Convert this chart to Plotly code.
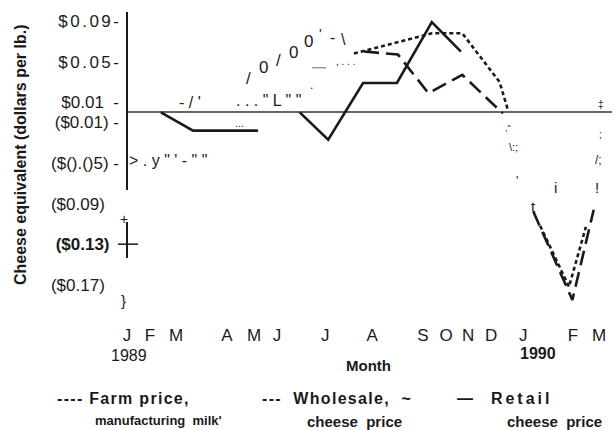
import plotly.graph_objects as go

# ---- data -------------------------------------------------------------
# x is measured in months from January 1989 (0) to March 1990 (14)
MONTH_LABELS = ["J", "F", "M", "A", "M", "J", "J", "A", "S", "O", "N", "D", "J", "F", "M"]
MONTH_TICKS = [0, 0.68, 1.45, 2.95, 3.75, 4.43, 5.85, 7.24, 8.74, 9.42, 10.07, 10.75, 11.7, 13.17, 13.94]

Y_TICKS = [0.09, 0.05, 0.01, -0.01, -0.05, -0.09, -0.13, -0.17]
WIDE = '<span style="letter-spacing:2.5px">{}</span>'
Y_TICK_TEXT = [WIDE.format("$0.09") + "-", WIDE.format("$0.05") + "-", "$0.01\u00a0\u00a0-",
               "($0.01) -", "($().()5) -", "($0.09)\u00a0\u00a0\u00a0", "<b>($0.13)</b>\u00a0\u00a0",
               "($0.17)\u00a0\u00a0\u00a0"]

# Farm price, manufacturing milk (dotted)
farm_x = [6.7, 9.0, 9.9, 11.0, 11.25, None, 12.2, 13.05, 13.55]
farm_y = [0.058, 0.078, 0.078, 0.030, 0.002, None, -0.112, -0.172, -0.113]

# Wholesale cheese price (long dash)
whole_x = [7.0, 8.0, 8.9, 9.9, 11.0, 11.1, None, 12.0, 13.15, 13.78]
whole_y = [0.060, 0.057, 0.019, 0.037, 0.002, -0.001, None, -0.098, -0.185, -0.096]

# Retail cheese price (solid)
retail_x = [1.0, 1.95, 3.87, None, 5.1, 5.94, 6.97, 7.97, 9.0, 9.86]
retail_y = [0.0, -0.018, -0.018, None, 0.0, -0.027, 0.029, 0.029, 0.089, 0.060]

# ---- layout geometry ---------------------------------------------------
W, H = 616, 430
L, R, T, B = 127, 612, 12, 305          # plot area edges in page pixels
X_RANGE = [0, 14.32]
Y_RANGE = [-0.19, 0.099]

FONT = "Liberation Sans, Arial, Helvetica, sans-serif"
NARROW = "Liberation Sans Narrow, Arial Narrow, Liberation Sans, sans-serif"
INK = "#1a1a1a"


def at(px, py):
    """Page pixel -> paper coordinates."""
    return (px - L) / (R - L), (B - py) / (B - T)


def spaced(s, px=1.5):
    return f'<span style="letter-spacing:{px}px">{s}</span>'


fig = go.Figure()

fig.add_trace(go.Scatter(x=farm_x, y=farm_y, mode="lines", connectgaps=False,
                         line=dict(color=INK, width=2.6, dash="4px,3px"),
                         name="Farm price"))
fig.add_trace(go.Scatter(x=whole_x, y=whole_y, mode="lines", connectgaps=False,
                         line=dict(color=INK, width=2.6, dash="15px,7px"),
                         name="Wholesale"))
fig.add_trace(go.Scatter(x=retail_x, y=retail_y, mode="lines", connectgaps=False,
                         line=dict(color=INK, width=2.6),
                         name="Retail"))

shapes = []
# broken vertical axis: upper run and the short piece near ($0.13)
for y0, y1 in [(12, 190), (222, 258)]:
    p0 = at(L, y0)[1]
    p1 = at(L, y1)[1]
    shapes.append(dict(type="line", xref="paper", yref="paper", x0=0, x1=0, y0=p0, y1=p1,
                       line=dict(color=INK, width=2)))
# cross tick at ($0.13)
shapes.append(dict(type="line", xref="paper", yref="y", x0=at(118, 0)[0], x1=at(138, 0)[0],
                   y0=-0.13, y1=-0.13, line=dict(color=INK, width=1.5)))

annotations = []


def txt(s, px, py, size=15, bold=False, family=FONT, xanchor="center", angle=0):
    x, y = at(px, py)
    annotations.append(dict(text=f"<b>{s}</b>" if bold else s, x=x, y=y, xref="paper", yref="paper",
                            showarrow=False, xanchor=xanchor, yanchor="middle", textangle=angle,
                            font=dict(family=family, size=size, color=INK)))


# axis title and captions
txt("Cheese equivalent (dollars per lb.)", 20, 155, size=16, bold=True, angle=-90)
txt("1989", 129, 355, size=16)
txt("<b>1990</b>", 538, 353, size=16)
txt("<b>Month</b>", 368, 365, size=15)

# key
txt(spaced("---- Farm price,", 1.3), 55, 398, size=16, bold=True, xanchor="left")
txt("manufacturing  milk'", 93, 420, size=13, bold=True, family=NARROW, xanchor="left")
txt(spaced("---  Wholesale,  ~", 1.3), 260, 398, size=16, bold=True, xanchor="left")
txt("cheese  price", 305, 421, size=15, bold=True, family=NARROW, xanchor="left")
txt(spaced("\u2014  Retail", 3), 455, 398, size=16, bold=True, xanchor="left")
txt("cheese  price", 505, 421, size=15, bold=True, family=NARROW, xanchor="left")

# loose print marks along the traces
for s, px, py, size in [
    ("- / '", 190, 103, 16), (". . . \" L \" \"", 268, 101, 16), ("...", 239, 123, 11),
    ("/", 248, 78, 17), ("0", 263, 67, 17), ("/", 278, 60, 17), ("0", 293, 52, 17),
    ("0", 308, 42, 17), ("'", 320, 34, 14), ("-", 332, 37, 16), ("\\", 343, 39, 16),
    ("\"\"\"\"\"", 319, 70, 8), (".", 311, 85, 12), (", . . .", 345, 62, 10),
    ("> . y \" ' - \" \"", 168, 160, 16), ("+", 124, 219, 14), ("}", 123, 300, 15),
    ("t", 533, 206, 15), ("i", 555, 187, 15), ("!", 597, 187, 15), ("'", 517, 181, 13),
    (",\"", 508, 128, 9), ("\\:;", 513, 147, 11), ("/;", 598, 160, 12), (";", 600, 134, 10),
    ("\u2021", 601, 104, 10),
]:
    txt(s, px, py, size=size)

fig.update_layout(
    width=W, height=H,
    margin=dict(l=L, r=W - R, t=T, b=H - B, pad=0),
    paper_bgcolor="white", plot_bgcolor="white",
    showlegend=False,
    shapes=shapes,
    annotations=annotations,
    xaxis=dict(range=X_RANGE, tickmode="array", tickvals=MONTH_TICKS, ticktext=MONTH_LABELS,
               showgrid=False, zeroline=False, showline=False, ticks="",
               ticklabelstandoff=18, tickfont=dict(family=FONT, size=17, color=INK)),
    yaxis=dict(range=Y_RANGE, tickmode="array", tickvals=Y_TICKS, ticktext=Y_TICK_TEXT,
               showgrid=False, showline=False, ticks="",
               zeroline=True, zerolinecolor="#666666", zerolinewidth=2,
               ticklabelstandoff=7, tickfont=dict(family=FONT, size=17, color=INK)),
)

fig.write_html("out.html")
